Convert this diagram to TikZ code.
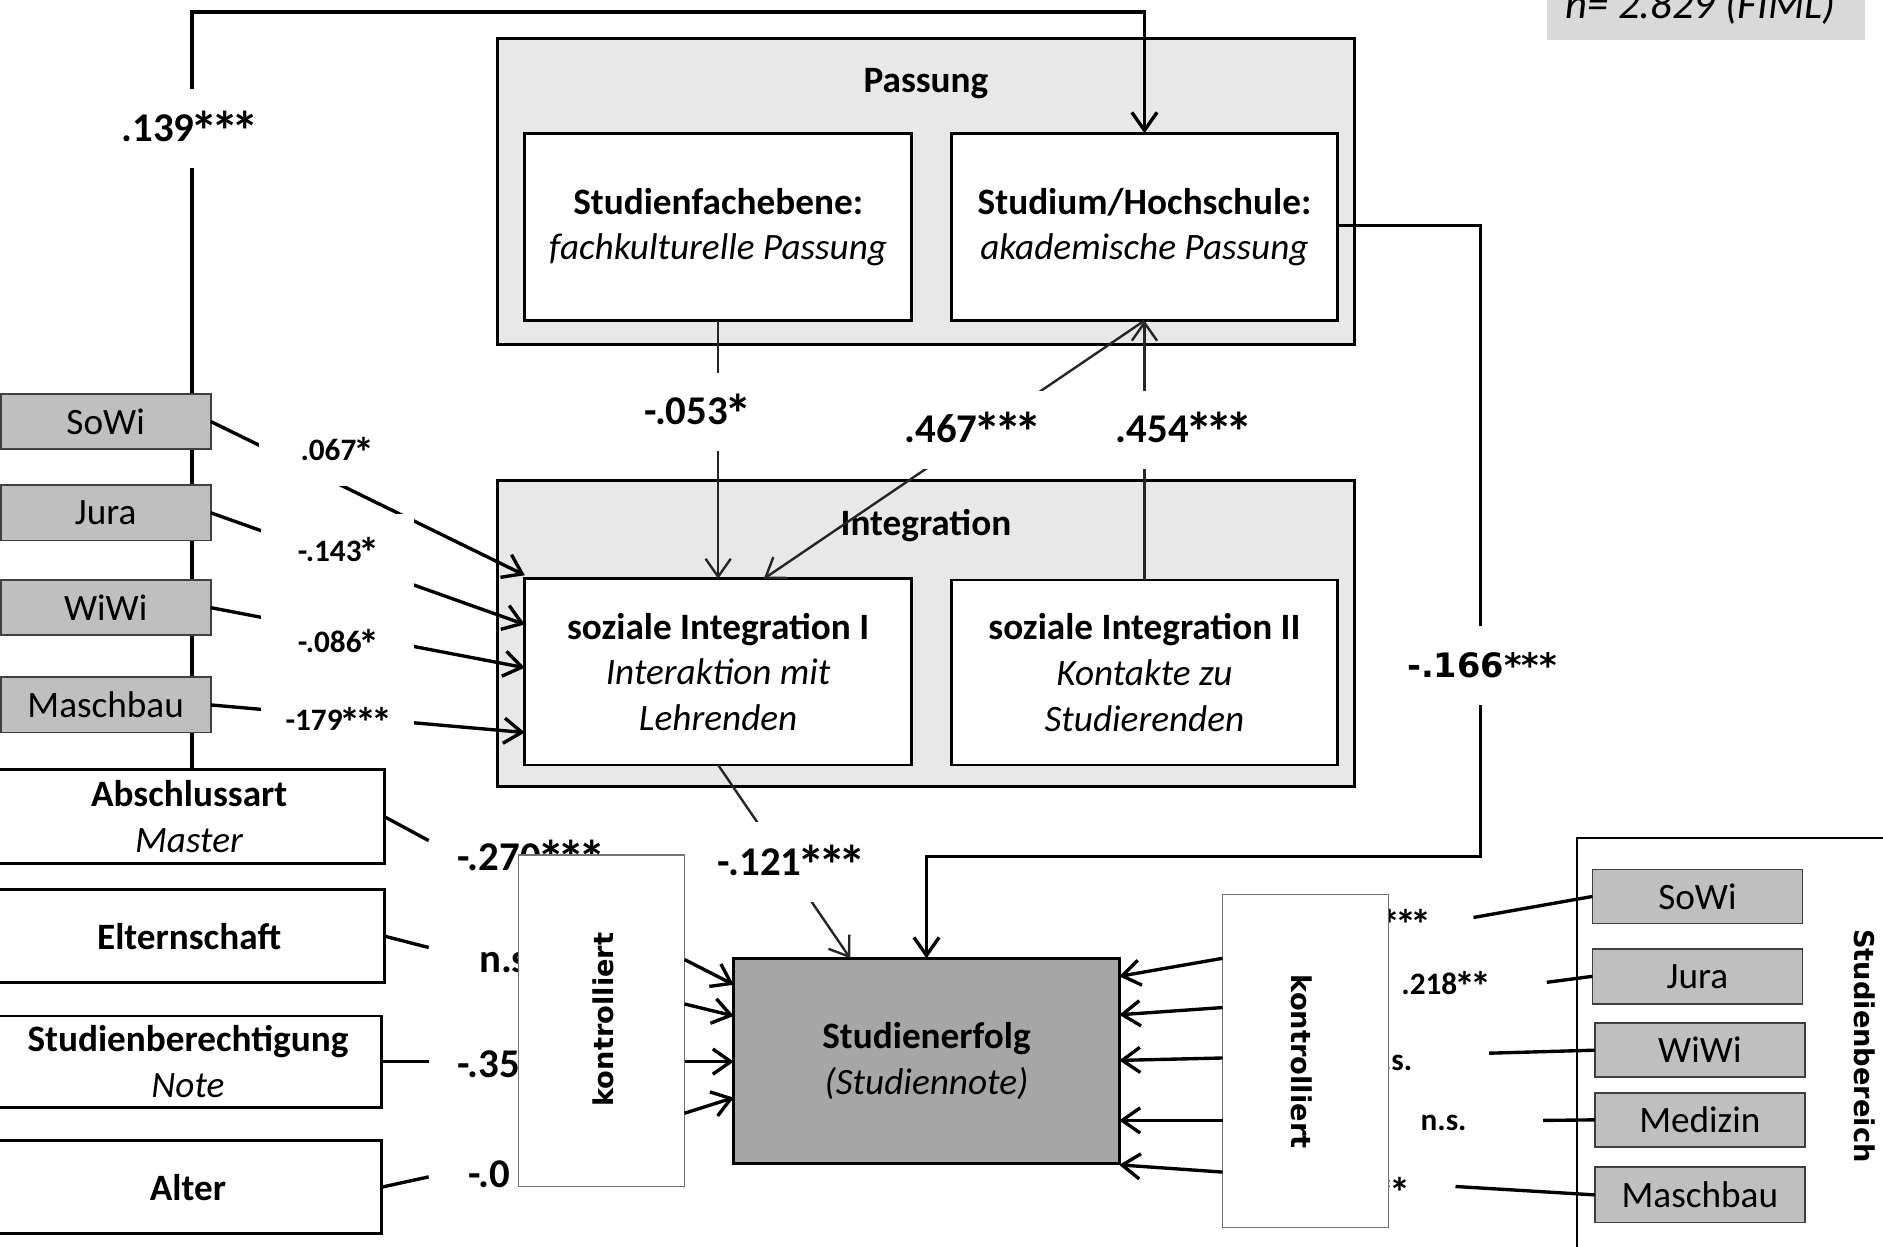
\documentclass[tikz,border=0pt]{standalone}
\usepackage{fontspec}
\setmainfont{Carlito}
\newfontfamily\dvs{DejaVu Sans}
\usetikzlibrary{arrows.meta}
\definecolor{groupgray}{HTML}{E8E8E8}
\definecolor{catgray}{HTML}{BFBFBF}
\definecolor{darkbox}{HTML}{A6A6A6}
\definecolor{fimlgray}{HTML}{D9D9D9}
\newcommand{\Ast}{\makebox[0.498em]{\raisebox{-0.22em}{\scalebox{1.35}{*}}}}
\begin{document}
\begin{tikzpicture}[x=1pt,y=-1pt,
  every node/.style={inner sep=0pt, outer sep=0pt},
  groupbox/.style={draw=black, line width=2.4pt, fill=groupgray},
  mainbox/.style={draw=black, line width=2.4pt, fill=white, align=center, font=\fontsize{31}{38}\selectfont},
  catbox/.style={draw=black!75, line width=1.5pt, fill=catgray, minimum width=175pt, font=\fontsize{31}{38}\selectfont},
  ctrlbox/.style={draw=black!55, line width=1pt, fill=white, minimum width=138pt},
  titletext/.style={font=\fontsize{31}{38}\selectfont\bfseries},
  conn/.style={line width=2.8pt, draw=black},
  thinconn/.style={line width=2pt, draw=black!85},
  arr/.style={-{Straight Barb[length=15pt,width=21pt]}},
  biglab/.style={font=\fontsize{34}{40}\selectfont\bfseries, text height=21.5pt, text depth=0pt},
  smalllab/.style={font=\fontsize{26}{30}\selectfont\bfseries, text height=16.5pt, text depth=0pt},
  whitelab/.style={fill=white, inner xsep=6pt},
  dvlab/.style={font=\dvs\fontsize{28}{32}\selectfont\bfseries, text height=20.3pt, text depth=0pt},
  ctrllab/.style={font=\dvs\fontsize{22.7}{26}\selectfont\bfseries},
]
\useasboundingbox (0,0) rectangle (1568,1038);

% sample size box (cut at top)
\node[fill=fimlgray, minimum width=265pt, minimum height=42pt, anchor=south west] (fimlbox) at (1288,33) {};
\node[font=\fontsize{35.5}{40}\selectfont\itshape, anchor=base] (fiml) at (1416,15.5) {n= 2.829 (FIML)};

% group boxes
\node[groupbox, minimum width=714pt, minimum height=255pt] (passung) at (771,159.5) {};
\node[titletext] (passungT) at (771,70) {Passung};
\node[groupbox, minimum width=714pt, minimum height=255pt] (integ) at (771,527.5) {};
\node[titletext] (integT) at (771,437.5) {Integration};

% inner boxes
\node[mainbox, minimum width=322pt, minimum height=156pt] (fach) at (598,189) {\textbf{Studienfachebene:}\\\textit{fachkulturelle Passung}};
\node[mainbox, minimum width=322pt, minimum height=156pt] (studium) at (953,189) {\textbf{Studium/Hochschule:}\\\textit{akademische Passung}};
\node[mainbox, minimum width=322pt, minimum height=155pt] (int1) at (598,559.5) {\textbf{soziale Integration I}\\\textit{Interaktion mit}\\\textit{Lehrenden}};
\node[mainbox, minimum width=322pt, minimum height=154pt] (int2) at (953,560) {\textbf{soziale Integration II}\\\textit{Kontakte zu}\\\textit{Studierenden}};
\node[mainbox, fill=darkbox, minimum width=321pt, minimum height=171pt] (erfolg) at (771.5,883.5) {\textbf{Studienerfolg}\\\textit{(Studiennote)}};

% left control variables
\node[mainbox, minimum width=325pt, minimum height=78pt] (abs) at (157.5,680) {\textbf{Abschlussart}\\\textit{Master}};
\node[mainbox, minimum width=325pt, minimum height=77pt] (eltern) at (157.5,779.5) {\textbf{Elternschaft}};
\node[mainbox, minimum width=323pt, minimum height=76pt] (berecht) at (156.5,884) {\textbf{Studienberechtigung}\\\textit{Note}};
\node[mainbox, minimum width=323pt, minimum height=77pt] (alter) at (156.5,988.5) {\textbf{Alter}};

% right group Studienbereich
\node[draw=black, line width=2pt, fill=white, minimum width=320pt, minimum height=380pt, anchor=north west] (bereich) at (1313,698) {};
\node[ctrllab, rotate=-90] (bereichT) at (1553,871) {Studienbereich};
\node[catbox, minimum height=45pt] (sowiR) at (1413.5,746.5) {SoWi};
\node[catbox, minimum height=46pt] (juraR) at (1413.5,813) {Jura};
\node[catbox, minimum height=45pt] (wiwiR) at (1415.5,874.5) {WiWi};
\node[catbox, minimum height=45pt] (medR) at (1415.5,932.5) {Medizin};
\node[catbox, minimum height=46pt] (maschR) at (1415.5,995) {Maschbau};

% top connector (.139***)
\coordinate (cTL) at (160,10);
\draw[conn,arr] (abs.north -| cTL) -- (cTL) -| (studium.north);
\node[biglab, whitelab, minimum height=65pt] (l139) at (157,107) {.139\Ast\Ast\Ast};

% left category boxes
\node[catbox, minimum height=46pt] (sowiL) at (88,351) {SoWi};
\node[catbox, minimum height=46pt] (juraL) at (88,427) {Jura};
\node[catbox, minimum height=46pt] (wiwiL) at (88,506) {WiWi};
\node[catbox, minimum height=46pt] (maschL) at (88,587) {Maschbau};

% right connector (-.166***)
\coordinate (cRT) at (1233,188);
\coordinate (cRB) at (1233,713);
\draw[conn,arr] (studium.east |- cRT) -- (cRT) -- (cRB) -| (erfolg.north);
\node[dvlab, whitelab, minimum height=66pt] (l166) at (1234,554) {-.166***};

% Passung <-> Integration
\draw[thinconn,arr] (fach.south) -- (int1.north);
\node[biglab, whitelab, minimum height=65pt] (l053) at (580,343) {-.053\Ast};
\coordinate (c467) at (636,482);
\draw[thinconn,arr] (studium.south) -- (c467);
\draw[thinconn,arr] (int2.north) -- (studium.south);
\node[biglab, whitelab, minimum height=65pt] (l467) at (809,358) {.467\Ast\Ast\Ast};
\node[biglab, whitelab, minimum height=65pt] (l454) at (985,358) {.454\Ast\Ast\Ast};

% Integration -> Studienerfolg
\coordinate (c121) at (708,798);
\draw[thinconn,arr] (int1.south) -- (c121);
\node[biglab, whitelab, minimum height=67pt] (l121) at (658,718) {-.121\Ast\Ast\Ast};

% left categories -> soziale Integration I
\coordinate (a1) at (437,479);
\coordinate (a2) at (437,520);
\coordinate (a3) at (437,556);
\coordinate (a4) at (437,610);
\draw[conn,arr] (sowiL.east) -- (a1);
\draw[conn,arr] (juraL.east) -- (a2);
\draw[conn,arr] (wiwiL.east) -- (a3);
\draw[conn,arr] (maschL.east) -- (a4);
\node[smalllab, fill=white, minimum width=128pt, minimum height=60pt] (l067) at (280,375) {.067\Ast};
\node[smalllab, fill=white, minimum width=128pt, minimum height=62pt] (l143) at (281,459) {-.143\Ast};
\node[smalllab, fill=white, minimum width=128pt, minimum height=60pt] (l086) at (281,535) {-.086\Ast};
\node[smalllab, fill=white, minimum width=128pt, minimum height=60pt] (l179) at (281,600) {-179\Ast\Ast\Ast};

% left control variables -> kontrolliert
\coordinate (b1) at (357,700);
\coordinate (b2) at (357,789);
\coordinate (b3) at (357,884);
\coordinate (b4) at (357,980);
\draw[conn] (abs.east) -- (b1);
\draw[conn] (eltern.east) -- (b2);
\draw[conn] (berecht.east) -- (b3);
\draw[conn] (alter.east) -- (b4);
\node[biglab, anchor=base west] (l270) at (381,725) {-.270\Ast\Ast\Ast};
\node[biglab, anchor=base west] (lns1) at (399,810) {n.s.};
\node[biglab, anchor=base west] (l35) at (381,897) {-.35};
\node[biglab, anchor=base west] (l0) at (390,989) {-.0};

% right categories -> kontrolliert
\coordinate (r1) at (1227,764);
\coordinate (r2) at (1288,818);
\coordinate (r3) at (1240,877);
\coordinate (r4) at (1285,933);
\coordinate (r5) at (1212,988);
\draw[conn] (sowiR.west) -- (r1);
\draw[conn] (juraR.west) -- (r2);
\draw[conn] (wiwiR.west) -- (r3);
\draw[conn] (medR.west) -- (r4);
\draw[conn] (maschR.west) -- (r5);
\node[smalllab, anchor=base east] (lr1) at (1190,777) {\Ast\Ast\Ast};
\node[smalllab, anchor=base west] (lr2) at (1167,828) {.218\Ast\Ast};
\node[smalllab, anchor=base east] (lr3) at (1176,891) {n.s.};
\node[smalllab, anchor=base west] (lr4) at (1183,941) {n.s.};
\node[smalllab, anchor=base east] (lr5) at (1172,1000) {\Ast\Ast};

% kontrolliert boxes
\node[ctrlbox, minimum height=276pt] (kontrL) at (501,850) {};
\node[ctrllab, rotate=90] (kontrLT) at (502,849) {kontrolliert};
\node[ctrlbox, minimum height=277pt] (kontrR) at (1087,883.5) {};
\node[ctrllab, rotate=-90] (kontrRT) at (1084,884) {kontrolliert};

% kontrolliert -> Studienerfolg
\coordinate (kL1) at (570,799);  \coordinate (eL1) at (611,820);
\coordinate (kL2) at (570,836);  \coordinate (eL2) at (611,846);
\coordinate (kL3) at (570,884);  \coordinate (eL3) at (611,884);
\coordinate (kL4) at (570,927);  \coordinate (eL4) at (611,914);
\draw[conn,arr] (kL1) -- (eL1);
\draw[conn,arr] (kL2) -- (eL2);
\draw[conn,arr] (kL3) -- (eL3);
\draw[conn,arr] (kL4) -- (eL4);
\coordinate (kR1) at (1018,798);  \coordinate (eR1) at (932,813);
\coordinate (kR2) at (1018,839);  \coordinate (eR2) at (932,845);
\coordinate (kR3) at (1018,881);  \coordinate (eR3) at (932,883);
\coordinate (kR4) at (1018,933);  \coordinate (eR4) at (932,933);
\coordinate (kR5) at (1018,976);  \coordinate (eR5) at (932,970);
\draw[conn,arr] (kR1) -- (eR1);
\draw[conn,arr] (kR2) -- (eR2);
\draw[conn,arr] (kR3) -- (eR3);
\draw[conn,arr] (kR4) -- (eR4);
\draw[conn,arr] (kR5) -- (eR5);
\end{tikzpicture}
\end{document}
